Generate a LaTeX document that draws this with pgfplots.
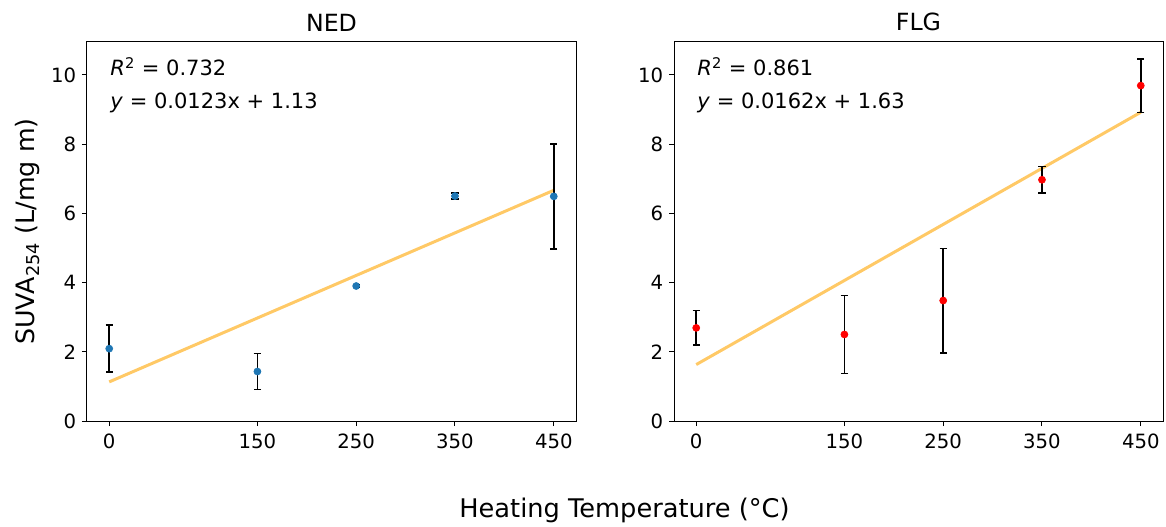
\documentclass[border=0pt]{standalone}
\usepackage{fontspec}
\setmainfont{DejaVu Sans}
\usepackage{pgfplots}
\pgfplotsset{compat=1.18}

\definecolor{mplblue}{HTML}{1F77B4}
\definecolor{fitline}{HTML}{FFC966}

% 1 px of the reference = 0.6pt
\pgfplotsset{
  suvapanel/.style={
    scale only axis,
    width=293.4pt, height=227.4pt,
    xmin=-22.5, xmax=472.5,
    ymin=0, ymax=10.95,
    xtick={0,150,250,350,450},
    ytick={0,2,4,6,8,10},
    tick pos=left,
    tick align=outside,
    major tick length=3pt,
    every tick/.style={black, line width=0.6pt},
    axis line style={line width=0.6pt},
    tick label style={font=\fontsize{11.8}{13}\selectfont},
    xticklabel style={yshift=-1pt},
    /pgf/number format/assume math mode=true,
    title style={font=\fontsize{14.2}{16}\selectfont, yshift=-3pt},
    clip=false,
  },
  errstyle/.style={
    error bars/.cd, y dir=both, y explicit,
    error bar style={black, line width=0.9pt},
    error mark options={black, rotate=90, mark size=2.2pt, line width=0.9pt},
  },
}

\begin{document}
\begin{tikzpicture}
\path[use as bounding box] (-52.2pt,-63.6pt) rectangle (647.4pt,252.6pt);

\begin{axis}[suvapanel, name=ned, at={(0pt,0pt)}, title={NED},
  ylabel={SUVA\textsubscript{254} (L/mg m)},
  ylabel style={font=\fontsize{15.2}{17}\selectfont, yshift=0pt}]
\addplot[fitline, line width=1.8pt] coordinates {(0,1.13) (450,6.665)};
\addplot[only marks, mark=*, mark size=2.1pt, mark options={draw=mplblue, fill=mplblue},
  errstyle] coordinates {
  (0,2.09)   +- (0,0.68)
  (150,1.43) +- (0,0.52)
  (250,3.90) +- (0,0.04)
  (350,6.50) +- (0,0.09)
  (450,6.49) +- (0,1.52)
};
\node[anchor=west, font=\fontsize{12.6}{14}\selectfont] at (rel axis cs:0.036,0.935)
  {\textit{R}\textsuperscript{2} = 0.732};
\node[anchor=west, font=\fontsize{12.6}{14}\selectfont] at (rel axis cs:0.036,0.84)
  {\textit{y} = 0.0123x + 1.13};
\end{axis}

\begin{axis}[suvapanel, name=flg, at={(352.2pt,0pt)}, title={FLG}]
\addplot[fitline, line width=1.8pt] coordinates {(0,1.63) (450,8.92)};
\addplot[only marks, mark=*, mark size=2.1pt, mark options={draw=red, fill=red},
  errstyle] coordinates {
  (0,2.69)   +- (0,0.50)
  (150,2.50) +- (0,1.13)
  (250,3.48) +- (0,1.51)
  (350,6.97) +- (0,0.38)
  (450,9.69) +- (0,0.77)
};
\node[anchor=west, font=\fontsize{12.6}{14}\selectfont] at (rel axis cs:0.036,0.935)
  {\textit{R}\textsuperscript{2} = 0.861};
\node[anchor=west, font=\fontsize{12.6}{14}\selectfont] at (rel axis cs:0.036,0.84)
  {\textit{y} = 0.0162x + 1.63};
\end{axis}

\node[font=\fontsize{15.4}{17}\selectfont] at (322.5pt,-53.4pt) {Heating Temperature (°C)};
\end{tikzpicture}
\end{document}
